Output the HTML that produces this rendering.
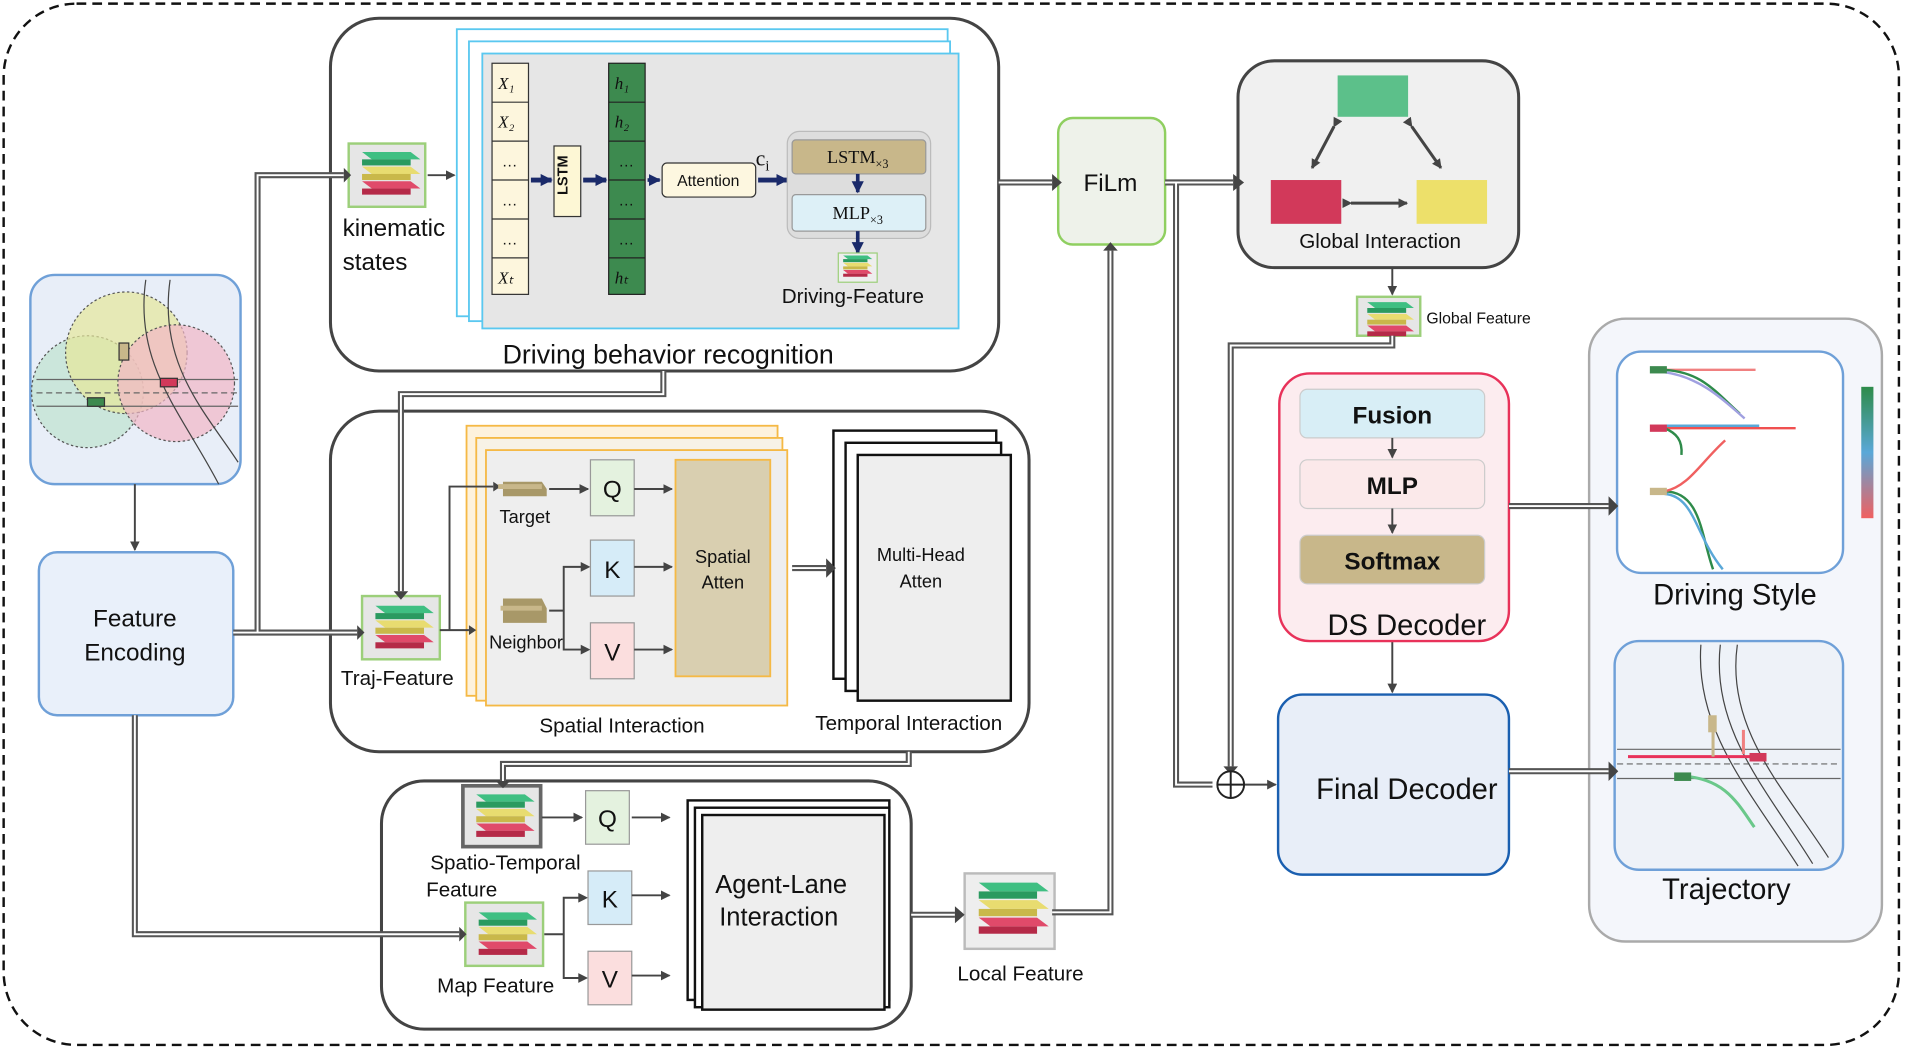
<!DOCTYPE html>
<html><head><meta charset="utf-8"><style>
html,body{margin:0;padding:0;background:#fff;}
svg{display:block;}
text{font-family:"Liberation Sans",sans-serif;fill:#111;}
.serif{font-family:"Liberation Serif",serif;}
</style></head><body>
<svg width="1905" height="1051" viewBox="0 0 1568 864" preserveAspectRatio="none" xmlns="http://www.w3.org/2000/svg">
<defs>
<marker id="ah" markerWidth="8" markerHeight="8" refX="7" refY="4" orient="auto" markerUnits="userSpaceOnUse"><path d="M0,0 L8,4 L0,8 z" fill="#444"/></marker>
<marker id="an" markerWidth="10" markerHeight="10" refX="9" refY="5" orient="auto" markerUnits="userSpaceOnUse"><path d="M0,0 L10,5 L0,10 z" fill="#1a2a6a"/></marker>
<linearGradient id="cb" x1="0" y1="0" x2="0" y2="1"><stop offset="0" stop-color="#2e8b4a"/><stop offset="0.5" stop-color="#5aa8d8"/><stop offset="1" stop-color="#f06060"/></linearGradient>
<g id="icon">
<path d="M8,8 L48,8 L56,14 L16,14 Z" fill="#3fbf82"/><rect x="8" y="14" width="40" height="5" fill="#2a9a60"/>
<path d="M8,20 L48,20 L56,26 L16,26 Z" fill="#e8dc70"/><rect x="8" y="26" width="40" height="5" fill="#c9b84a"/>
<path d="M8,32 L48,32 L56,38 L16,38 Z" fill="#e04a6a"/><rect x="8" y="38" width="40" height="5" fill="#b52a48"/>
</g>
</defs>
<style>
.dbl{fill:none;stroke:#555;stroke-width:5;}
.dbw{fill:none;stroke:#fff;stroke-width:1.6;}
.thin{fill:none;stroke:#444;stroke-width:1.6;}
</style>
<rect x="3" y="3" width="1560" height="856" rx="60" fill="none" stroke="#111" stroke-width="2" stroke-dasharray="8,5"/>

<!-- scene -->
<rect x="25" y="226" width="173" height="172" rx="20" fill="#e8eef8" stroke="#6fa0d8" stroke-width="2"/>
<circle cx="72" cy="322" r="46" fill="#bfe3cf" fill-opacity="0.7" stroke="#555" stroke-dasharray="2,2"/>
<circle cx="104" cy="290" r="50" fill="#e6e79a" fill-opacity="0.7" stroke="#555" stroke-dasharray="2,2"/>
<circle cx="145" cy="315" r="48" fill="#f2b6c6" fill-opacity="0.7" stroke="#555" stroke-dasharray="2,2"/>
<path d="M30,312 L196,312 M30,334 L196,334" stroke="#666" fill="none"/>
<path d="M30,323 L196,323" stroke="#666" stroke-dasharray="5,3" fill="none"/>
<path d="M120,230 C110,300 150,340 180,398 M140,230 C130,300 170,340 196,380" stroke="#444" fill="none"/>
<rect x="98" y="282" width="8" height="14" fill="#c8b78a" stroke="#333"/>
<rect x="132" y="311" width="14" height="7" fill="#d2395a" stroke="#333"/>
<rect x="72" y="327" width="14" height="7" fill="#3d8a4f" stroke="#333"/>
<line x1="111" y1="398" x2="111" y2="452" class="thin" marker-end="url(#ah)"/>
<rect x="32" y="454" width="160" height="134" rx="15" fill="#e9f0fa" stroke="#6fa0d8" stroke-width="2"/>
<text x="111" y="515" font-size="20" text-anchor="middle">Feature</text>
<text x="111" y="543" font-size="20" text-anchor="middle">Encoding</text>

<line x1="1146" y1="220" x2="1146" y2="242" class="thin" marker-end="url(#ah)"/>
<line x1="1146" y1="527" x2="1146" y2="569" class="thin" marker-end="url(#ah)"/>

<!-- Driving behavior recognition -->
<rect x="272" y="15" width="550" height="290" rx="40" fill="#fff" stroke="#444" stroke-width="2.5"/>
<rect x="376" y="24" width="404" height="236" fill="#fff" stroke="#5ac8f0" stroke-width="1.5"/>
<rect x="386" y="34" width="396" height="230" fill="#fff" stroke="#5ac8f0" stroke-width="1.5"/>
<rect x="397" y="44" width="392" height="226" fill="#e6e6e6" stroke="#5ac8f0" stroke-width="1.5"/>
<rect x="287" y="118" width="63" height="52" fill="#e6e6e6" stroke="#9ccf7a" stroke-width="2"/>
<use href="#icon" x="290" y="117"/>
<line x1="352" y1="144" x2="374" y2="144" class="thin" marker-end="url(#ah)"/>
<text x="282" y="194" font-size="20">kinematic</text>
<text x="282" y="222" font-size="20">states</text>
<rect x="405" y="52" width="30" height="190" fill="#fdf6dd" stroke="#333"/>
<path d="M405,84 L435,84 M405,116 L435,116 M405,148 L435,148 M405,180 L435,180 M405,212 L435,212" stroke="#333"/>
<text x="410" y="73" font-size="14" class="serif" font-style="italic">X₁</text>
<text x="410" y="105" font-size="14" class="serif" font-style="italic">X₂</text>
<text x="413" y="137" font-size="13">…</text><text x="413" y="169" font-size="13">…</text><text x="413" y="201" font-size="13">…</text>
<text x="410" y="233" font-size="14" class="serif" font-style="italic">Xₜ</text>
<line x1="437" y1="148" x2="454" y2="148" stroke="#1a2a6a" stroke-width="4" marker-end="url(#an)"/>
<rect x="456" y="120" width="22" height="58" fill="#fdf7d5" stroke="#333"/>
<text x="472" y="149" font-size="12" font-weight="bold" text-anchor="middle" transform="rotate(-90 467 149)">LSTM</text>
<line x1="480" y1="148" x2="499" y2="148" stroke="#1a2a6a" stroke-width="4" marker-end="url(#an)"/>
<rect x="501" y="52" width="30" height="190" fill="#3d8a4f" stroke="#222"/>
<path d="M501,84 L531,84 M501,116 L531,116 M501,148 L531,148 M501,180 L531,180 M501,212 L531,212" stroke="#222"/>
<text x="506" y="73" font-size="14" class="serif" font-style="italic">h₁</text>
<text x="506" y="105" font-size="14" class="serif" font-style="italic">h₂</text>
<text x="509" y="137" font-size="13">…</text><text x="509" y="169" font-size="13">…</text><text x="509" y="201" font-size="13">…</text>
<text x="506" y="233" font-size="14" class="serif" font-style="italic">hₜ</text>
<line x1="533" y1="148" x2="543" y2="148" stroke="#1a2a6a" stroke-width="3" marker-end="url(#an)"/>
<rect x="545" y="134" width="77" height="28" rx="4" fill="#fdf7e0" stroke="#333"/>
<text x="583" y="153" font-size="13" text-anchor="middle">Attention</text>
<line x1="624" y1="148" x2="648" y2="148" stroke="#1a2a6a" stroke-width="4" marker-end="url(#an)"/>
<text x="622" y="136" font-size="18" class="serif">c<tspan font-size="12" dy="4">i</tspan></text>
<rect x="648" y="108" width="118" height="88" rx="10" fill="#ddd" stroke="#bbb"/>
<rect x="652" y="115" width="110" height="28" rx="3" fill="#c8b78a" stroke="#999"/>
<text x="706" y="134" font-size="15" class="serif" text-anchor="middle">LSTM<tspan font-size="10" dy="4">×3</tspan></text>
<line x1="706" y1="143" x2="706" y2="158" stroke="#1a2a6a" stroke-width="3" marker-end="url(#an)"/>
<rect x="652" y="160" width="110" height="30" rx="3" fill="#ddf0f7" stroke="#999"/>
<text x="706" y="180" font-size="15" class="serif" text-anchor="middle">MLP<tspan font-size="10" dy="4">×3</tspan></text>
<line x1="706" y1="190" x2="706" y2="208" stroke="#1a2a6a" stroke-width="3" marker-end="url(#an)"/>
<rect x="690" y="208" width="32" height="24" fill="#eee" stroke="#9ccf7a"/>
<use href="#icon" transform="translate(690,206) scale(0.5)"/>
<text x="702" y="249" font-size="17" text-anchor="middle">Driving-Feature</text>
<text x="550" y="299" font-size="22" text-anchor="middle">Driving behavior recognition</text>

<!-- spatial / temporal -->
<rect x="272" y="338" width="575" height="280" rx="40" fill="#fff" stroke="#444" stroke-width="2.5"/>
<rect x="384" y="350" width="256" height="222" fill="#fdf2dd" stroke="#f5b945" stroke-width="1.5"/>
<rect x="392" y="360" width="252" height="216" fill="#f7f2e6" stroke="#f5b945" stroke-width="1.5"/>
<rect x="400" y="370" width="248" height="210" fill="#eeeeee" stroke="#f5b945" stroke-width="1.5"/>
<rect x="556" y="378" width="78" height="178" fill="#d9cfb0" stroke="#f5b945" stroke-width="1.5"/>
<text x="595" y="463" font-size="15" text-anchor="middle">Spatial</text>
<text x="595" y="484" font-size="15" text-anchor="middle">Atten</text>
<rect x="298" y="490" width="64" height="52" fill="#e6e6e6" stroke="#9ccf7a" stroke-width="2"/>
<use href="#icon" x="301" y="490"/>
<text x="327" y="563" font-size="17" text-anchor="middle">Traj-Feature</text>
<path d="M362,518 L386,518 M370,518 L370,400 L406,400" class="thin"/>
<path d="M406,396 L412,400 L406,404Z M386,514 L392,518 L386,522Z" fill="#444"/>
<path d="M414,396 L446,396 L450,402 L450,408 L414,408 Z" fill="#a89868"/><path d="M410,400 L446,400" stroke="#c8b78a" stroke-width="4"/>
<path d="M414,492 L446,492 L450,500 L450,512 L414,512 Z" fill="#a89868"/><path d="M412,500 L446,500" stroke="#c8b78a" stroke-width="4"/>
<text x="432" y="430" font-size="15" text-anchor="middle">Target</text>
<text x="433" y="533" font-size="15" text-anchor="middle">Neighbor</text>
<line x1="452" y1="402" x2="484" y2="402" class="thin" marker-end="url(#ah)"/>
<path d="M452,502 L464,502 L464,466 L484,466 M464,502 L464,534 L484,534" class="thin"/>
<path d="M478,462 L486,466 L478,470Z M478,530 L486,534 L478,538Z" fill="#444"/>
<rect x="486" y="378" width="36" height="46" fill="#e4f2df" stroke="#999"/>
<rect x="486" y="444" width="36" height="46" fill="#d6ecf8" stroke="#999"/>
<rect x="486" y="512" width="36" height="46" fill="#fbdede" stroke="#999"/>
<text x="504" y="409" font-size="20" text-anchor="middle">Q</text>
<text x="504" y="475" font-size="20" text-anchor="middle">K</text>
<text x="504" y="543" font-size="20" text-anchor="middle">V</text>
<line x1="522" y1="402" x2="553" y2="402" class="thin" marker-end="url(#ah)"/>
<line x1="522" y1="466" x2="553" y2="466" class="thin" marker-end="url(#ah)"/>
<line x1="522" y1="534" x2="553" y2="534" class="thin" marker-end="url(#ah)"/>
<rect x="686" y="354" width="134" height="204" fill="#fff" stroke="#111" stroke-width="2"/>
<rect x="696" y="364" width="128" height="204" fill="#fff" stroke="#111" stroke-width="2"/>
<rect x="706" y="374" width="126" height="202" fill="#eee" stroke="#111" stroke-width="2"/>
<text x="758" y="461" font-size="15" text-anchor="middle">Multi-Head</text>
<text x="758" y="483" font-size="15" text-anchor="middle">Atten</text>
<text x="512" y="602" font-size="17" text-anchor="middle">Spatial Interaction</text>
<text x="748" y="600" font-size="17" text-anchor="middle">Temporal Interaction</text>

<!-- agent-lane -->
<rect x="314" y="642" width="436" height="204" rx="35" fill="#fff" stroke="#444" stroke-width="2.5"/>
<rect x="381" y="646" width="64" height="50" fill="#e6e6e6" stroke="#666" stroke-width="3"/>
<use href="#icon" x="384" y="645"/>
<text x="416" y="715" font-size="17" text-anchor="middle">Spatio-Temporal</text>
<text x="380" y="737" font-size="17" text-anchor="middle">Feature</text>
<line x1="446" y1="672" x2="479" y2="672" class="thin" marker-end="url(#ah)"/>
<rect x="383" y="742" width="64" height="52" fill="#e6e6e6" stroke="#9ccf7a" stroke-width="2"/>
<use href="#icon" x="386" y="742"/>
<text x="408" y="816" font-size="17" text-anchor="middle">Map Feature</text>
<path d="M448,768 L464,768 L464,738 L480,738 M464,768 L464,804 L480,804" class="thin"/>
<path d="M476,734 L484,738 L476,742Z M476,800 L484,804 L476,808Z" fill="#444"/>
<rect x="482" y="650" width="36" height="44" fill="#e4f2df" stroke="#999"/>
<rect x="484" y="716" width="36" height="44" fill="#d6ecf8" stroke="#999"/>
<rect x="484" y="782" width="36" height="44" fill="#fbdede" stroke="#999"/>
<text x="500" y="680" font-size="20" text-anchor="middle">Q</text>
<text x="502" y="746" font-size="20" text-anchor="middle">K</text>
<text x="502" y="812" font-size="20" text-anchor="middle">V</text>
<line x1="520" y1="672" x2="551" y2="672" class="thin" marker-end="url(#ah)"/>
<line x1="520" y1="736" x2="551" y2="736" class="thin" marker-end="url(#ah)"/>
<line x1="520" y1="802" x2="551" y2="802" class="thin" marker-end="url(#ah)"/>
<rect x="566" y="658" width="166" height="164" fill="#fff" stroke="#111" stroke-width="2"/>
<rect x="572" y="664" width="160" height="164" fill="#fff" stroke="#111" stroke-width="2"/>
<rect x="578" y="670" width="150" height="160" fill="#eee" stroke="#111" stroke-width="2"/>
<text x="643" y="734" font-size="21" text-anchor="middle">Agent-Lane</text>
<text x="641" y="761" font-size="21" text-anchor="middle">Interaction</text>
<rect x="794" y="718" width="74" height="62" fill="#eee" stroke="#bbb" stroke-width="2"/>
<use href="#icon" transform="translate(796,716) scale(1.2)"/>
<text x="840" y="806" font-size="17" text-anchor="middle">Local Feature</text>

<!-- FiLm -->
<rect x="871" y="97" width="88" height="104" rx="12" fill="#eef2ea" stroke="#8fcf60" stroke-width="2"/>
<text x="914" y="157" font-size="20" text-anchor="middle">FiLm</text>

<!-- global interaction -->
<rect x="1019" y="50" width="231" height="170" rx="30" fill="#f0f0f0" stroke="#444" stroke-width="2.5"/>
<rect x="1101" y="62" width="58" height="34" fill="#5cc08a"/>
<rect x="1046" y="148" width="58" height="36" fill="#d2395a"/>
<rect x="1166" y="148" width="58" height="36" fill="#ede06a"/>
<g stroke="#444" stroke-width="2.5" fill="none" marker-start="url(#ah)" marker-end="url(#ah)">
<line x1="1098" y1="104" x2="1080" y2="138"/>
<line x1="1162" y1="104" x2="1186" y2="138"/>
<line x1="1112" y1="167" x2="1158" y2="167"/>
</g>
<text x="1136" y="204" font-size="17" text-anchor="middle">Global Interaction</text>
<rect x="1117" y="244" width="52" height="32" fill="#e6e6e6" stroke="#9ccf7a" stroke-width="2"/>
<use href="#icon" transform="translate(1119,242) scale(0.8)"/>
<text x="1174" y="266" font-size="13">Global Feature</text>

<!-- DS decoder -->
<rect x="1053" y="307" width="189" height="220" rx="25" fill="#fcecef" stroke="#e8325a" stroke-width="2"/>
<rect x="1070" y="320" width="152" height="40" rx="6" fill="#d8eef6" stroke="#ccc"/>
<rect x="1070" y="378" width="152" height="40" rx="6" fill="#fbe9ea" stroke="#ccc"/>
<rect x="1070" y="440" width="152" height="40" rx="6" fill="#c8b78a" stroke="#ccc"/>
<text x="1146" y="348" font-size="20" font-weight="bold" text-anchor="middle">Fusion</text>
<text x="1146" y="406" font-size="20" font-weight="bold" text-anchor="middle">MLP</text>
<text x="1146" y="468" font-size="20" font-weight="bold" text-anchor="middle">Softmax</text>
<line x1="1146" y1="360" x2="1146" y2="376" class="thin" marker-end="url(#ah)"/>
<line x1="1146" y1="418" x2="1146" y2="438" class="thin" marker-end="url(#ah)"/>
<text x="1158" y="522" font-size="24" text-anchor="middle">DS Decoder</text>
<rect x="1052" y="571" width="190" height="148" rx="20" fill="#e8eef8" stroke="#1a5fb0" stroke-width="2"/>
<text x="1158" y="657" font-size="24" text-anchor="middle">Final Decoder</text>

<!-- right panel -->
<rect x="1308" y="262" width="241" height="512" rx="30" fill="#f4f6fb" stroke="#aaa" stroke-width="2"/>
<rect x="1331" y="289" width="186" height="182" rx="20" fill="#fff" stroke="#6fa0d8" stroke-width="2"/>
<rect x="1532" y="318" width="10" height="108" fill="url(#cb)"/>
<g fill="none" stroke-width="2">
<path d="M1370,304 L1445,304" stroke="#f08080"/>
<path d="M1370,304 C1400,306 1410,320 1432,340" stroke="#2e8b4a"/>
<path d="M1370,306 C1400,310 1420,330 1436,344" stroke="#a0a0e0"/>
<path d="M1370,352 L1478,352" stroke="#f05050"/>
<path d="M1370,350 L1448,350" stroke="#5aa8d8"/>
<path d="M1370,352 C1380,356 1385,362 1384,374" stroke="#2e8b4a"/>
<path d="M1370,404 C1400,404 1400,440 1410,468" stroke="#2e8b4a"/>
<path d="M1370,406 C1395,408 1395,440 1418,468" stroke="#5aa8d8"/>
<path d="M1370,404 C1390,400 1400,380 1420,362" stroke="#f06060"/>
</g>
<rect x="1358" y="301" width="14" height="6" fill="#3d8a4f"/>
<rect x="1358" y="349" width="14" height="6" fill="#d2395a"/>
<rect x="1358" y="401" width="14" height="6" fill="#c8b78a"/>
<text x="1428" y="497" font-size="24" text-anchor="middle">Driving Style</text>
<rect x="1329" y="527" width="188" height="188" rx="20" fill="#eef2f8" stroke="#6fa0d8" stroke-width="2"/>
<path d="M1331,616 L1515,616 M1331,640 L1515,640" stroke="#666" fill="none"/>
<path d="M1331,628 L1515,628" stroke="#666" stroke-dasharray="5,3" fill="none"/>
<path d="M1400,530 C1395,600 1440,650 1480,712 M1430,530 C1420,600 1470,650 1505,705 M1416,530 C1408,600 1455,650 1492,710" stroke="#444" fill="none"/>
<g fill="none" stroke-width="2.5">
<path d="M1445,622 L1340,622" stroke="#e8325a"/>
<path d="M1385,638 C1420,640 1430,660 1444,680" stroke="#6ac88a"/>
<path d="M1410,600 L1410,622" stroke="#c8b78a"/>
<path d="M1435,620 L1435,600" stroke="#f08080"/>
</g>
<rect x="1440" y="619" width="14" height="7" fill="#d2395a"/>
<rect x="1378" y="635" width="14" height="7" fill="#3d8a4f"/>
<rect x="1406" y="588" width="7" height="14" fill="#c8b78a"/>
<text x="1421" y="739" font-size="24" text-anchor="middle">Trajectory</text>

<!-- connectors on top -->
<g>
<path d="M192,520 L294,520 M212,520 L212,144 L283,144 M111,588 L111,768 L378,768 M546,305 L546,324 L330,324 L330,486 M748,618 L748,628 L414,628 L414,642 M866,750 L914,750 L914,206 M822,150 L866,150 M959,150 L1015,150 M968,150 L968,645 L998,645 M1146,276 L1146,284 L1013,284 L1013,630 M1242,416 L1324,416 M1242,634 L1324,634 M652,467 L680,467 M750,752 L786,752" class="dbl"/>
<path d="M192,520 L294,520 M212,520 L212,144 L283,144 M111,588 L111,768 L378,768 M546,305 L546,324 L330,324 L330,486 M748,618 L748,628 L414,628 L414,642 M866,750 L914,750 L914,206 M822,150 L866,150 M959,150 L1015,150 M968,150 L968,645 L998,645 M1146,276 L1146,284 L1013,284 L1013,630 M1242,416 L1324,416 M1242,634 L1324,634 M652,467 L680,467 M750,752 L786,752" class="dbw"/>
<path d="M294,514 L300,520 L294,526Z M283,138 L289,144 L283,150Z M378,762 L384,768 L378,774Z M324,486 L330,493 L336,486Z M408,642 L414,648 L420,642Z M908,206 L914,199 L920,206Z M866,143 L874,150 L866,157Z M1015,143 L1024,150 L1015,157Z M1007,630 L1013,637 L1019,630Z M1324,408 L1332,416 L1324,424Z M1324,626 L1332,634 L1324,642Z M680,459 L688,467 L680,475Z M786,745 L794,752 L786,759Z" fill="#444"/>
</g>
<line x1="1013" y1="645" x2="1050" y2="645" class="thin" marker-end="url(#ah)"/>
<circle cx="1013" cy="645" r="11" fill="#fff" stroke="#222" stroke-width="1.6"/>
<path d="M1002,645 L1024,645 M1013,634 L1013,656" stroke="#222" stroke-width="1.6"/>
</svg>
</body></html>
